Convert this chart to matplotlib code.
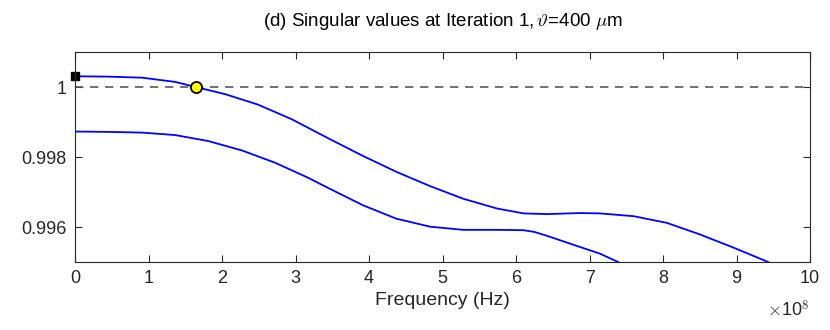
import matplotlib
matplotlib.use("Agg")
import matplotlib.pyplot as plt
import numpy as np

plt.rcParams['font.family'] = ['Liberation Sans', 'DejaVu Sans']
plt.rcParams['mathtext.fontset'] = 'cm'

# frequency in units of 1e8 Hz, singular values
f_upper = [0, 0.45, 0.91, 1.36, 1.65, 2.04, 2.49, 2.95, 3.47, 3.92, 4.37, 4.83, 5.28,
           5.74, 6.10, 6.42, 6.87, 7.14, 7.60, 8.05, 8.50, 8.96, 9.43]
sv_upper = [1.00031, 1.00030, 1.00027, 1.00015, 1.00000, 0.99980, 0.99950, 0.99908,
            0.99851, 0.99803, 0.99758, 0.99717, 0.99681, 0.99653, 0.99639, 0.99637,
            0.99640, 0.99639, 0.99631, 0.99612, 0.99579, 0.99541, 0.99500]

f_lower = [0, 0.45, 0.91, 1.36, 1.81, 2.27, 2.72, 3.17, 3.47, 3.92, 4.37, 4.83, 5.28,
           5.74, 6.10, 6.25, 6.42, 6.87, 7.14, 7.39]
sv_lower = [0.99873, 0.99872, 0.99870, 0.99863, 0.99846, 0.99819, 0.99784, 0.99741,
            0.99709, 0.99662, 0.99624, 0.99601, 0.99592, 0.99592, 0.99591, 0.99586,
            0.99575, 0.99543, 0.99524, 0.99500]

f_square, sv_square = 0.0, 1.00031
f_circle, sv_circle = 1.65, 1.0

fig = plt.figure(figsize=(8.3, 3.3), dpi=100)
ax = fig.add_axes([0.0904, 0.206, 0.8856, 0.636])

ax.axhline(1.0, color=(0.35, 0.35, 0.35), linestyle=(0, (5, 4)), linewidth=1.2)
ax.plot(np.array(f_upper) * 1e8, sv_upper, color=(0, 0, 1), linewidth=1.3)
ax.plot(np.array(f_lower) * 1e8, sv_lower, color=(0, 0, 1), linewidth=1.3)
ax.plot(f_square * 1e8, sv_square, marker='s', color='black', markersize=6, clip_on=False)
ax.plot(f_circle * 1e8, sv_circle, marker='o', markerfacecolor='yellow',
        markeredgecolor='black', markersize=8, markeredgewidth=1.3)

ax.set_xlim(0, 10e8)
ax.set_ylim(0.995, 1.001)
ax.set_xticks(np.arange(0, 11) * 1e8)
ax.set_xticklabels([str(i) for i in range(11)])
ax.set_yticks([0.996, 0.998, 1.0])
ax.set_yticklabels(['0.996', '0.998', '1'])

for s in ax.spines.values():
    s.set_color((0.15, 0.15, 0.15))
    s.set_linewidth(0.8)
ax.tick_params(direction='in', top=True, right=True, length=5, width=0.8,
               colors=(0.15, 0.15, 0.15), labelsize=13, pad=6)

ax.set_xlabel('Frequency (Hz)', fontsize=14, color=(0.15, 0.15, 0.15), labelpad=3)
ax.set_title(r'(d) Singular values at Iteration 1,$\,\vartheta$=400 $\mu$m', fontsize=13.5, pad=19)
ax.text(1.0, -0.18, r'$\times$10$^{8}$', transform=ax.transAxes, ha='right', va='top',
        fontsize=13, color=(0.15, 0.15, 0.15))

fig.savefig('out.png', dpi=100)
